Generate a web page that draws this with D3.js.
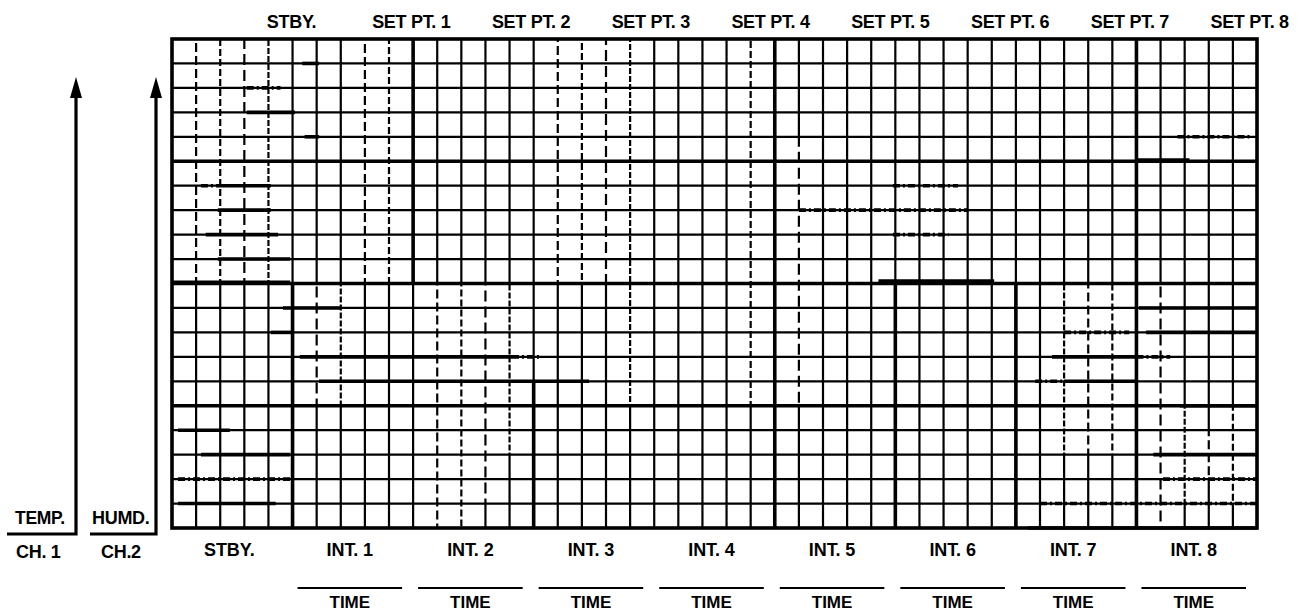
<!DOCTYPE html>
<html><head><meta charset="utf-8">
<script src="https://cdn.jsdelivr.net/npm/d3@7"></script>
<style>
html,body{margin:0;padding:0;background:#fff;}
svg text{font-family:"Liberation Sans",Arial,sans-serif;font-weight:bold;fill:#000;}
</style></head>
<body><svg id="c" width="1299" height="616"></svg>
<script>
// ---- data ----
const setPointLabels = ["STBY.","SET PT. 1","SET PT. 2","SET PT. 3","SET PT. 4","SET PT. 5","SET PT. 6","SET PT. 7","SET PT. 8"];
const intervalLabels = ["STBY.","INT. 1","INT. 2","INT. 3","INT. 4","INT. 5","INT. 6","INT. 7","INT. 8"];
const timeIntervals = [1,2,3,4,5,6,7,8];
const subDivisions = 5;           // minor columns per interval
const gridRows = 20;              // minor rows
const majorRowEvery = 5;
// CH.1 (temperature) recorded steps: [start col, end col, level]
const ch1Solid = [[5.4,6.1,19],[3.1,5.1,17],[5.5,6.1,16],[2.0,4.1,14],[1.9,4.1,13],[1.4,4.4,12],[1.9,4.9,11],[0,4.9,10.05],[29.3,34.1,10.1],[40,42.2,15.05]];
const ch1Broken = [[3.1,4.5,18],[1.2,2.0,14],[41.7,44.8,16],[29.9,32.6,14],[26,33,13],[29.9,32.2,12]];
// CH.2 (humidity) recorded steps
const ch2Solid = [[4.6,7.0,9],[4.1,5.0,8],[5.3,14.1,7],[6.1,17.3,6],[0.25,2.4,4],[1.2,4.9,3],[0.25,4.3,1],[40.1,45,9],[40.4,45,8],[36.5,40,7],[37,40,6],[41.8,45,5],[40.7,45,3],[35.5,45,0]];
const ch2Broken = [[14.1,15.3,7],[37,39.7,8],[40,41.4,7],[35.8,37,6],[0.25,4.9,2],[41.1,45,2],[36,45,1]];
// recorded vertical transitions: [col, from level, to level]
const stepRisers = [[5,0,10],[10,10,20],[15,0,6],[25,0,20],[30,0,10],[35,0,10],[40,0,20]];
// faint (broken) portions of the chart paper rulings: [col, from level, to level]
const faintRulings = [[1,10,20],[2,10,20],[3,10,20],[4,10,20],[8,10,20],[9,10,20],[6,5,10],[7,5,10],
  [11,0,10],[12,0,10],[13,1,10],[14,3,10],[16,10,20],[17,10,20],[18,10,20],[19,5,20],[20,0,5],[24,5,20],[26,5,16],
  [37,3,10],[38,3,10],[39,3,10],[41,0,10],[42,1,5],[43,2,4],[44,1,5]];

// ---- layout ----
const svg = d3.select("#c");
const X0 = 172, X1 = 1257, Y0 = 39, Y1 = 528;
const nCols = setPointLabels.length * subDivisions;
const x = d3.scaleLinear().domain([0, nCols]).range([X0, X1]);
const y = d3.scaleLinear().domain([0, gridRows]).range([Y1, Y0]);
const ink = "#000";

const g = svg.append("g");
const minorCols = d3.range(1, nCols).filter(c => c % subDivisions !== 0);
g.selectAll("line.mv").data(minorCols).join("line")
  .attr("x1", d => x(d)).attr("x2", d => x(d)).attr("y1", Y0).attr("y2", Y1)
  .attr("stroke", ink).attr("stroke-width", 2.2);
g.selectAll("line.fr").data(faintRulings).join("line")
  .attr("x1", d => x(d[0])).attr("x2", d => x(d[0]))
  .attr("y1", d => y(d[2])).attr("y2", d => y(d[1]))
  .attr("stroke", "#fff").attr("stroke-width", 3.8)
  .attr("stroke-dasharray", (d,i) => ["4,9","3,7","5,11","2,6"][i%4])
  .attr("stroke-dashoffset", (d,i) => i*3);
const majorCols = d3.range(subDivisions, nCols, subDivisions);
g.selectAll("line.Mv").data(majorCols).join("line")
  .attr("x1", d => x(d)).attr("x2", d => x(d)).attr("y1", Y0).attr("y2", Y1)
  .attr("stroke", ink).attr("stroke-width", 2.2);
const rowsAll = d3.range(1, gridRows);
g.selectAll("line.h").data(rowsAll).join("line")
  .attr("x1", X0).attr("x2", X1).attr("y1", d => y(d)).attr("y2", d => y(d))
  .attr("stroke", ink).attr("stroke-width", d => d % majorRowEvery === 0 ? 3.6 : 2.2);
function hseg(data, dashed) {
  g.append("g").selectAll("line").data(data).join("line")
    .attr("x1", d => x(d[0])).attr("x2", d => x(d[1]))
    .attr("y1", d => y(d[2])).attr("y2", d => y(d[2]))
    .attr("stroke", ink).attr("stroke-width", 3.6)
    .attr("stroke-dasharray", dashed ? "7,3,2,3" : null);
}
hseg(ch1Solid, false); hseg(ch1Broken, true);
hseg(ch2Solid, false); hseg(ch2Broken, true);
g.append("g").selectAll("line").data(stepRisers).join("line")
  .attr("x1", d => x(d[0])).attr("x2", d => x(d[0]))
  .attr("y1", d => y(d[1])).attr("y2", d => y(d[2]))
  .attr("stroke", ink).attr("stroke-width", 3.6);
g.append("rect").attr("x", X0).attr("y", Y0).attr("width", X1 - X0).attr("height", Y1 - Y0)
  .attr("fill", "none").attr("stroke", ink).attr("stroke-width", 3.6);

// ---- labels ----
svg.append("g").selectAll("text").data(setPointLabels).join("text")
  .attr("x", (d,i) => x((i+1)*subDivisions) - 1 - i*0.8).attr("y", 28)
  .attr("text-anchor", "middle").attr("font-size", 18).attr("letter-spacing", -0.3)
  .text(d => d);
svg.append("g").selectAll("text").data(intervalLabels).join("text")
  .attr("x", (d,i) => x((i+0.5)*subDivisions) - 3).attr("y", 556)
  .attr("text-anchor", "middle").attr("font-size", 18).attr("letter-spacing", -0.1)
  .text(d => d);
const tg = svg.append("g");
tg.selectAll("line").data(timeIntervals).join("line")
  .attr("x1", d => x(d*subDivisions) + 5).attr("x2", d => x((d+1)*subDivisions) - 11)
  .attr("y1", 588).attr("y2", 588).attr("stroke", ink).attr("stroke-width", 2);
tg.selectAll("text").data(timeIntervals).join("text")
  .attr("x", d => x((d+0.5)*subDivisions) - 3).attr("y", 608)
  .attr("text-anchor", "middle").attr("font-size", 17)
  .text("TIME");

// ---- channel axes ----
const chans = [
  {name:"TEMP.", ch:"CH. 1", ax:76, lx0:7, tx:15, cx:16, fs:17.5},
  {name:"HUMD.", ch:"CH.2", ax:156, lx0:90, tx:92, cx:101, fs:18}
];
const cg = svg.append("g");
chans.forEach(c => {
  cg.append("path").attr("d", `M${c.lx0},534 H${c.ax} V94`)
    .attr("fill", "none").attr("stroke", ink).attr("stroke-width", 3.2);
  cg.append("path").attr("d", `M${c.ax},77 L${c.ax-6},98 L${c.ax+6},98 Z`).attr("fill", ink);
  cg.append("text").attr("x", c.tx).attr("y", 524).attr("font-size", c.fs).attr("letter-spacing", -0.3).text(c.name);
  cg.append("text").attr("x", c.cx).attr("y", 558).attr("font-size", 18).attr("letter-spacing", -0.3).text(c.ch);
});
</script></body></html>
